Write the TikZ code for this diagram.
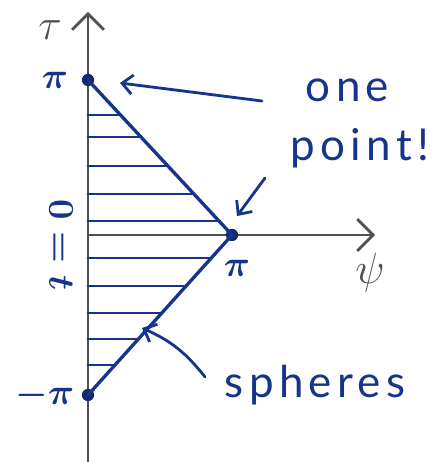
\documentclass[tikz,border=0pt]{standalone}
\usepackage{fontspec}
\setmainfont{Lato}
\usepackage{amsmath}
\usetikzlibrary{arrows.meta,calc}
\definecolor{ink}{RGB}{22,52,140}
\definecolor{pencil}{RGB}{80,80,80}
\begin{document}
\begin{tikzpicture}[
        axis/.style={draw=pencil, line width=1.6pt, -{Straight Barb[length=9pt,width=18pt,line width=1.6pt]}},
        edge/.style={draw=ink, line width=1.9pt, line cap=round},
        hatch/.style={draw=ink, line width=1.6pt, line cap=round},
        pt/.style={circle, fill=ink!80!black, inner sep=0pt, minimum size=7pt},
        lbl/.style={text=ink, font=\fontsize{21}{24}\selectfont, inner sep=1pt},
        word/.style={text=ink, font=\fontsize{25}{30}\selectfont\addfontfeature{LetterSpace=12}, inner sep=1pt},
        hand/.style={draw=ink, line width=1.6pt, line cap=round, -{Straight Barb[length=6pt,width=11pt,line width=1.6pt]}}
    ]
        \useasboundingbox (0,0) rectangle (8.9,9.24);
        % axes
        \coordinate (vb) at (1.76,0);
        \coordinate (vt) at (1.76,9.0);
        \coordinate (ho) at (1.76,4.54);
        \coordinate (he) at (7.5,4.54);
        \draw[axis] (vb) -- (vt);
        \draw[axis] (ho) -- (he);
        \node[text=pencil, font=\fontsize{24}{28}\selectfont] (tau) at (1.0,8.64) {$\tau$};
        \node[text=pencil, font=\fontsize{24}{28}\selectfont] (psi) at (7.4,3.78) {$\psi$};

        % triangle
        \node[pt] (T) at (1.76,7.64) {};
        \node[pt] (R) at (4.64,4.54) {};
        \node[pt] (B) at (1.76,1.34) {};
        \foreach \f in {0.226,0.368,0.555,0.735,0.91}
            \draw[hatch] (ho |- {$(T.center)!\f!(R.center)$}) -- ($(T.center)!\f!(R.center)$);
        \foreach \f in {0.144,0.319,0.4875,0.65,0.8125}
            \draw[hatch] (ho |- {$(R.center)!\f!(B.center)$}) -- ($(R.center)!\f!(B.center)$);
        \draw[edge] (T.center) -- (R.center) -- (B.center);

        % labels on the axes
        \node[lbl] (pitop) at (1.1,7.64) {$\boldsymbol{\pi}$};
        \node[lbl] (pibot) at (0.9,1.34) {$\boldsymbol{-\pi}$};
        \node[lbl] (piright) at (4.74,3.88) {$\boldsymbol{\pi}$};
        \node[lbl, rotate=-90, font=\fontsize{22}{26}\selectfont] (zero) at (1.22,4.34) {$\boldsymbol{0=t}$};

        % notes
        \node[word] (one) at (6.95,7.44) {one};
        \node[word] (point) at (7.2,6.28) {point!};
        \node[word] (spheres) at (6.3,1.54) {spheres};
        \coordinate (onetail) at (5.24,7.22);
        \coordinate (pointtail) at (5.3,5.68);
        \coordinate (spherestail) at (4.1,1.7);
        \coordinate (spheresend) at (2.84,2.68);
        \draw[hand] (onetail) -- ($(T.center)+(0.64,-0.06)$);
        \draw[hand] (pointtail) -- ($(R.center)+(0.1,0.38)$);
        \draw[hand] (spherestail) to[bend right=14] (spheresend);
    \end{tikzpicture}
\end{document}
